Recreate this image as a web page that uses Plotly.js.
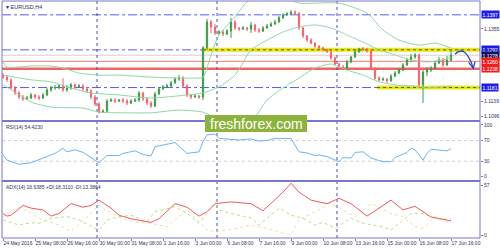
<!DOCTYPE html>
<html><head><meta charset="utf-8">
<script src="https://cdn.plot.ly/plotly-3.0.1.min.js"></script>
<style>html,body{margin:0;padding:0;background:#fff}#c{width:500px;height:250px}</style>
</head><body><div id="c"></div>
<script>
// ---- data (EURUSD H4, 24 May 2016 .. 17 Jun 2016) ----
const opens = [1.1218,1.1212,1.1204,1.1180,1.1165,1.1153,1.1147,1.1150,1.1159,1.1153,
1.1150,1.1159,1.1174,1.1180,1.1180,1.1186,1.1174,1.1180,1.1189,1.1183,
1.1186,1.1177,1.1171,1.1153,1.1132,1.1108,1.1111,1.1141,1.1144,1.1141,
1.1144,1.1141,1.1135,1.1141,1.1144,1.1165,1.1147,1.1135,1.1126,1.1162,
1.1177,1.1183,1.1186,1.1195,1.1206,1.1209,1.1186,1.1159,1.1153,1.1156,
1.1153,1.1299,1.1376,1.1361,1.1343,1.1346,1.1340,1.1349,1.1376,1.1358,
1.1355,1.1358,1.1355,1.1367,1.1352,1.1349,1.1358,1.1364,1.1370,1.1376,
1.1388,1.1397,1.1400,1.1405,1.1402,1.1358,1.1334,1.1322,1.1313,1.1304,
1.1299,1.1293,1.1287,1.1269,1.1251,1.1242,1.1236,1.1257,1.1272,1.1287,
1.1296,1.1295,1.1290,1.1236,1.1209,1.1204,1.1206,1.1201,1.1215,1.1224,
1.1233,1.1248,1.1263,1.1272,1.1278,1.1189,1.1227,1.1233,1.1239,1.1254,
1.1263,1.1248,1.1263];
const highs = [1.1224,1.1218,1.1209,1.1186,1.1171,1.1159,1.1156,1.1165,1.1162,1.1159,
1.1165,1.1180,1.1186,1.1189,1.1192,1.1209,1.1189,1.1195,1.1195,1.1192,
1.1192,1.1183,1.1177,1.1159,1.1138,1.1117,1.1147,1.1150,1.1150,1.1147,
1.1150,1.1147,1.1147,1.1150,1.1171,1.1168,1.1153,1.1141,1.1168,1.1183,
1.1189,1.1192,1.1201,1.1212,1.1218,1.1215,1.1192,1.1162,1.1162,1.1159,
1.1304,1.1385,1.1382,1.1370,1.1352,1.1352,1.1355,1.1388,1.1382,1.1361,
1.1364,1.1361,1.1376,1.1370,1.1358,1.1364,1.1370,1.1376,1.1382,1.1394,
1.1402,1.1405,1.1411,1.1411,1.1405,1.1361,1.1337,1.1328,1.1316,1.1307,
1.1302,1.1296,1.1290,1.1272,1.1254,1.1248,1.1263,1.1275,1.1293,1.1299,
1.1302,1.1299,1.1293,1.1242,1.1215,1.1212,1.1209,1.1221,1.1230,1.1239,
1.1254,1.1269,1.1281,1.1284,1.1281,1.1233,1.1242,1.1245,1.1260,1.1272,
1.1269,1.1275,1.1293];
const lows = [1.1206,1.1198,1.1174,1.1159,1.1147,1.1141,1.1144,1.1147,1.1147,1.1144,
1.1147,1.1156,1.1168,1.1174,1.1177,1.1168,1.1168,1.1174,1.1177,1.1180,
1.1171,1.1165,1.1147,1.1126,1.1103,1.1106,1.1108,1.1138,1.1135,1.1138,
1.1135,1.1129,1.1132,1.1138,1.1138,1.1141,1.1129,1.1120,1.1123,1.1159,
1.1174,1.1180,1.1180,1.1192,1.1201,1.1180,1.1153,1.1147,1.1150,1.1147,
1.1144,1.1293,1.1343,1.1337,1.1337,1.1334,1.1337,1.1328,1.1352,1.1349,
1.1352,1.1349,1.1343,1.1346,1.1343,1.1346,1.1355,1.1361,1.1367,1.1373,
1.1385,1.1394,1.1397,1.1397,1.1352,1.1328,1.1316,1.1310,1.1299,1.1293,
1.1290,1.1284,1.1263,1.1245,1.1236,1.1233,1.1233,1.1254,1.1269,1.1284,
1.1290,1.1284,1.1233,1.1204,1.1198,1.1201,1.1195,1.1198,1.1212,1.1221,
1.1230,1.1245,1.1257,1.1266,1.1183,1.1135,1.1215,1.1227,1.1233,1.1251,
1.1242,1.1245,1.1257];
const closes = [1.1212,1.1204,1.1180,1.1165,1.1153,1.1147,1.1150,1.1159,1.1153,1.1150,
1.1159,1.1174,1.1180,1.1181,1.1186,1.1174,1.1180,1.1189,1.1183,1.1186,
1.1177,1.1171,1.1153,1.1132,1.1108,1.1111,1.1141,1.1144,1.1141,1.1144,
1.1141,1.1135,1.1141,1.1144,1.1165,1.1147,1.1135,1.1126,1.1162,1.1177,
1.1183,1.1186,1.1195,1.1206,1.1209,1.1186,1.1159,1.1153,1.1156,1.1153,
1.1299,1.1376,1.1361,1.1343,1.1346,1.1340,1.1349,1.1376,1.1358,1.1355,
1.1358,1.1355,1.1367,1.1352,1.1349,1.1358,1.1364,1.1370,1.1376,1.1388,
1.1397,1.1400,1.1405,1.1402,1.1358,1.1334,1.1322,1.1313,1.1304,1.1299,
1.1293,1.1287,1.1269,1.1251,1.1242,1.1236,1.1257,1.1272,1.1287,1.1296,
1.1295,1.1290,1.1236,1.1209,1.1204,1.1206,1.1201,1.1215,1.1224,1.1233,
1.1248,1.1263,1.1272,1.1278,1.1189,1.1227,1.1233,1.1239,1.1254,1.1263,
1.1248,1.1263,1.1278];

// Bollinger bands (sampled)
const bbUpperIdx = [0,1,7,12,15,19,24,29,37,46,50,51,52,54,58,61,65,70,74,84,91,95,99,104,108,112];
const bbUpper    = [1.1257,1.1242,1.1245,1.1245,1.1239,1.1224,1.1218,1.1218,1.1212,1.1209,1.1212,1.1239,1.1278,1.1337,1.1391,1.1435,1.1456,1.1450,1.1432,1.1432,1.1402,1.1352,1.1322,1.1307,1.1313,1.1299];
const bbMidIdx = [0,7,12,16,22,29,37,46,50,54,58,62,66,70,74,78,82,86,90,94,98,102,106,110,112];
const bbMid    = [1.1218,1.1204,1.1198,1.1183,1.1165,1.1159,1.1150,1.1159,1.1165,1.1183,1.1218,1.1293,1.1322,1.1346,1.1361,1.1367,1.1358,1.1337,1.1316,1.1293,1.1278,1.1263,1.1257,1.1263,1.1269];
const bbLowerIdx = [0,3,7,12,20,24,30,37,44,50,53,57,62,66,70,74,78,82,86,90,94,98,102,106,110,112];
const bbLower    = [1.1189,1.1168,1.1138,1.1123,1.1120,1.1108,1.1106,1.1106,1.1114,1.1108,1.1091,1.1073,1.1079,1.1144,1.1180,1.1209,1.1239,1.1251,1.1233,1.1218,1.1198,1.1189,1.1186,1.1180,1.1183,1.1186];

// RSI(14)
const rsiIdx = [0,1,4,7,10,13,15,16,18,20,24,26,29,30,33,35,37,38,43,46,49,50,51,53,54,59,62,64,66,68,72,74,76,78,79,81,84,85,87,88,90,92,95,97,98,101,102,103,105,106,107,109,111,112];
const rsiVal = [42,32,24,27,36,45,55,48,52,47,27,41,41,45,50,43,40,58,66,45,48,68,81,82,74,71,73,69,70,74,74,48,46,41,42,39,29,37,36,47,48,36,29,29,37,47,55,52,32,45,53,52,50,54.4];

// ADX(14), +DI, -DI
const adxIdx = [0,1,2,5,7,10,12,14,17,20,22,24,27,29,32,37,39,43,46,49,51,53,57,62,65,67,70,72,74,77,81,84,87,91,97,100,103,107,110,112];
const adxVal = [25,22,23,34,31,29,22,25,36,32,34,40,31,23,19,15,19,36,32,22,27,36,38,36,28,36,49,59,49,40,36,42,36,22,40,29,33,21,18,16.6];
const pdiIdx = [0,4,7,9,12,16,19,24,26,29,32,36,38,43,46,49,53,54,57,62,64,69,72,75,78,80,83,87,90,95,97,100,102,105,108,112];
const pdiVal = [17.7,12,14.6,14,19.6,21.4,17.7,6.4,17.7,21,23,15.7,27,32.6,25,14,36.4,29,25,20,12,31,23,19.6,12,15,8.3,19.6,14,10,6.4,17.7,25,25,19.6,18.3];
const mdiIdx = [0,4,7,9,14,17,22,24,27,32,37,41,46,51,53,57,62,66,70,72,74,78,82,85,88,92,97,100,103,105,108,112];
const mdiVal = [21.4,32.6,25,19.6,12,5,25,34.5,25,15.7,14,10,29,6.4,4.5,7,12,8,2.7,1,17.7,27,36.4,29,21.4,36.4,25,21.4,10,8.3,21.4,13.4];

// axis ticks
const timeTickIdx = [0,8,16,24,32,40,48,56,64,72,80,88,96,104,112];
const timeTickText = ['24 May 2016','25 May 08:00','26 May 16:00','30 May 00:00','31 May 08:00','1 Jun 16:00','3 Jun 00:00','6 Jun 08:00','7 Jun 16:00','9 Jun 00:00','10 Jun 08:00','13 Jun 16:00','15 Jun 00:00','16 Jun 08:00','17 Jun 16:00'];
const weekStartIdx = [24,54,84];
const priceTicks = [1.1355,1.1139,1.1096];
const rsiTicks = [0,30,70,100];
const adxTicks = [0,57];

// levels
const blueLevels = [1.1397,1.1293,1.1181];
const yellowLevels = [1.1293,1.1181];
const yellowStartIdx = [50,93.5];
const redThin = 1.1259, redThick = 1.1237, bidLevel = 1.1277;
const boxLabels = [
  {p:1.1397, t:'1.1397', c:'#1e1ee6'},
  {p:1.1293, t:'1.1292', c:'#1e1ee6'},
  {p:1.1277, t:'1.1278', c:'#14145a'},
  {p:1.1259, t:'1.1260', c:'#f01e1e'},
  {p:1.1237, t:'1.1238', c:'#f01e1e'},
  {p:1.1181, t:'1.1181', c:'#1e1ee6'}
];

const idx = opens.map((_, i) => i);
const FONT = 'Liberation Sans, Arial, sans-serif';
const AX = '#7878c4';
const TXT = '#30305a';

const traces = [
  {type:'scatter', mode:'lines', x:bbUpperIdx, y:bbUpper, line:{color:'#8fd6aa', width:1, shape:'spline', smoothing:0.6}, xaxis:'x', yaxis:'y', hoverinfo:'skip'},
  {type:'scatter', mode:'lines', x:bbMidIdx, y:bbMid, line:{color:'#8fd6aa', width:1, shape:'spline', smoothing:0.6}, xaxis:'x', yaxis:'y', hoverinfo:'skip'},
  {type:'scatter', mode:'lines', x:bbLowerIdx, y:bbLower, line:{color:'#8fd6aa', width:1, shape:'spline', smoothing:0.6}, xaxis:'x', yaxis:'y', hoverinfo:'skip'},
  {type:'candlestick', x:idx, open:opens, high:highs, low:lows, close:closes, xaxis:'x', yaxis:'y',
   increasing:{line:{color:'#3e9a46', width:1}, fillcolor:'#3e9a46'},
   decreasing:{line:{color:'#f0646e', width:1}, fillcolor:'#f0646e'}, whiskerwidth:0, hoverinfo:'skip'},
  {type:'scatter', mode:'lines', x:rsiIdx, y:rsiVal, line:{color:'#6cb4f0', width:1}, xaxis:'x', yaxis:'y2', hoverinfo:'skip'},
  {type:'scatter', mode:'lines', x:mdiIdx, y:mdiVal, line:{color:'#f2dcb4', width:1, dash:'dot'}, xaxis:'x', yaxis:'y3', hoverinfo:'skip'},
  {type:'scatter', mode:'lines', x:pdiIdx, y:pdiVal, line:{color:'#c2dc78', width:1, dash:'dot'}, xaxis:'x', yaxis:'y3', hoverinfo:'skip'},
  {type:'scatter', mode:'lines', x:adxIdx, y:adxVal, line:{color:'#f25a5a', width:1}, xaxis:'x', yaxis:'y3', hoverinfo:'skip'}
];

// panel geometry in paper coords (plot area 2..480 x, 1..238 y)
const D1 = 0.4937, D2 = 0.2405;
const shapes = [];
blueLevels.forEach(p => shapes.push({type:'line', xref:'paper', yref:'y', x0:0, x1:1, y0:p, y1:p, line:{color:'#5a5af0', width:1, dash:'dashdot'}, layer:'below'}));
shapes.push({type:'line', xref:'paper', yref:'y', x0:0, x1:1, y0:bidLevel, y1:bidLevel, line:{color:'#d2d2d2', width:1}, layer:'below'});
shapes.push({type:'line', xref:'paper', yref:'y', x0:0, x1:1, y0:redThin, y1:redThin, line:{color:'#f27878', width:1}, layer:'below'});
shapes.push({type:'line', xref:'paper', yref:'y', x0:0, x1:1, y0:redThick, y1:redThick, line:{color:'#f06464', width:2.5}, layer:'below'});
yellowLevels.forEach((p, k) => {
  shapes.push({type:'line', xref:'x', yref:'y', x0:yellowStartIdx[k], x1:119.25, y0:p, y1:p, line:{color:'rgba(232,232,0,0.9)', width:4}, layer:'below'});
  shapes.push({type:'line', xref:'x', yref:'y', x0:yellowStartIdx[k], x1:119.25, y0:p, y1:p, line:{color:'#5a5a20', width:1, dash:'dot'}, layer:'below'});
});
[30,70].forEach(v => shapes.push({type:'line', xref:'paper', yref:'y2', x0:0, x1:1, y0:v, y1:v, line:{color:'#cfcfcf', width:1, dash:'dot'}, layer:'below'}));
weekStartIdx.forEach(i => shapes.push({type:'line', xref:'x', yref:'paper', x0:i-0.5, x1:i-0.5, y0:0, y1:1, line:{color:'#50509a', width:1, dash:'dot'}, layer:'below'}));
shapes.push({type:'rect', xref:'paper', yref:'paper', x0:0, x1:1, y0:0, y1:1, line:{color:AX, width:1}});
shapes.push({type:'line', xref:'paper', yref:'paper', x0:0, x1:1, y0:D1, y1:D1, line:{color:AX, width:2}});
shapes.push({type:'line', xref:'paper', yref:'paper', x0:0, x1:1, y0:D2, y1:D2, line:{color:AX, width:2}});
shapes.push({type:'rect', xref:'paper', yref:'paper', x0:0.4247, x1:0.6381, y0:0.4473, y1:0.5190, fillcolor:'#8cb43c', line:{width:0}});
shapes.push({type:'path', xref:'x', yref:'y', path:'M 113,1.1280 C 114.6,1.1300 116.2,1.1290 117.6,1.1238', line:{color:'#2448c8', width:1.3}});
shapes.push({type:'path', xref:'x', yref:'y', path:'M 116.4,1.1256 L 117.6,1.1238 L 118.0,1.1258', line:{color:'#2448c8', width:1.3}});

const annotations = [
  {xref:'paper', yref:'paper', x:0.004, y:0.997, xanchor:'left', yanchor:'top', text:'▾ EURUSD,H4', showarrow:false, font:{family:FONT, size:5.5, color:TXT}},
  {xref:'paper', yref:'paper', x:0.004, y:D1-0.004, xanchor:'left', yanchor:'top', text:'RSI(14) 54.4230', showarrow:false, font:{family:FONT, size:5, color:TXT}},
  {xref:'paper', yref:'paper', x:0.004, y:D2-0.004, xanchor:'left', yanchor:'top', text:'ADX(14) 16.6385 +DI:18.3110 -DI:13.3864', showarrow:false, font:{family:FONT, size:5, color:TXT}},
  {xref:'paper', yref:'paper', x:0.5314, y:0.4831, xanchor:'center', yanchor:'middle', text:'freshforex.com', showarrow:false, font:{family:FONT, size:14, color:'#ffffff'}}
];
boxLabels.forEach(b => annotations.push({xref:'paper', yref:'y', x:1, y:b.p, xanchor:'left', yanchor:'middle', xshift:1, text:b.t, showarrow:false, bgcolor:b.c, borderpad:0.5, font:{family:FONT, size:5, color:'#ffffff'}}));

const yBase = {side:'right', anchor:'x', showgrid:false, zeroline:false, showline:false, ticks:'outside', ticklen:2, tickcolor:AX, tickfont:{family:FONT, size:5, color:TXT}, automargin:false, fixedrange:true};

const layout = {
  width:500, height:250,
  margin:{l:2, r:20, t:1, b:12},
  paper_bgcolor:'#ffffff', plot_bgcolor:'#ffffff',
  showlegend:false,
  boxgap:0.55,
  xaxis:{domain:[0,1], range:[-0.25,119.25], anchor:'y3', showgrid:false, zeroline:false, showline:false,
         tickmode:'array', tickvals:timeTickIdx, ticktext:timeTickText, ticks:'outside', ticklen:2, tickcolor:AX,
         tickangle:0, ticklabelposition:'outside right', tickfont:{family:FONT, size:5, color:TXT}, rangeslider:{visible:false}, automargin:false, fixedrange:true},
  yaxis: Object.assign({}, yBase, {domain:[D1,1], range:[1.10817,1.14381], tickmode:'array', tickvals:priceTicks, ticktext:priceTicks.map(v=>v.toFixed(4))}),
  yaxis2: Object.assign({}, yBase, {domain:[D2,D1], range:[-8.3,107.7], tickmode:'array', tickvals:rsiTicks}),
  yaxis3: Object.assign({}, yBase, {domain:[0,D2], range:[-2.6,61.5], tickmode:'array', tickvals:adxTicks}),
  shapes, annotations
};

Plotly.newPlot('c', traces, layout, {staticPlot:true, displayModeBar:false});
</script></body></html>
